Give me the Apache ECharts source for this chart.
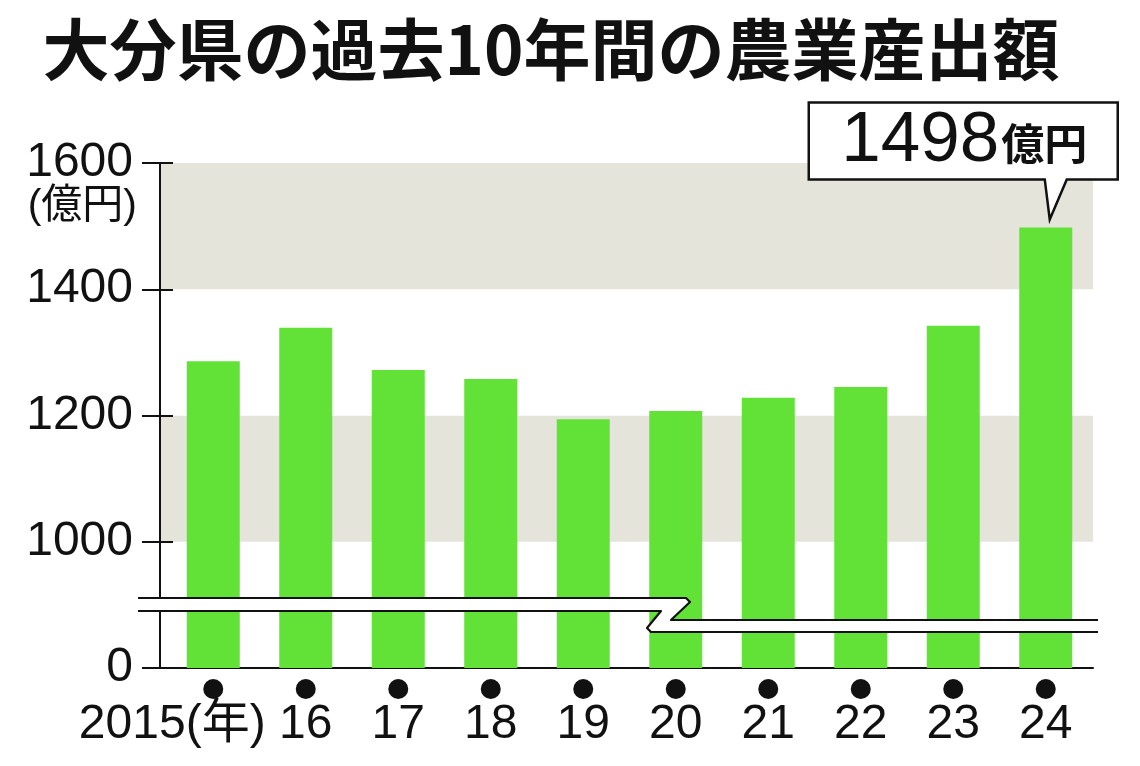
<!DOCTYPE html>
<html>
<head>
<meta charset="utf-8">
<script src="https://cdn.jsdelivr.net/npm/echarts@6/dist/echarts.min.js"></script>
<style>
html,body{margin:0;padding:0;background:#fff;}
#c{width:1140px;height:766px;}
</style>
</head>
<body>
<div id="c"></div>
<script>
// ---- data ----
const titleText = '大分県の過去10年間の農業産出額';
const years = ['2015','16','17','18','19','20','21','22','23','24'];
const yearUnit = '(年)';
const values = [1286, 1339, 1272, 1258, 1194, 1207, 1228, 1245, 1342, 1498];
const yTicks = [800, 1000, 1200, 1400, 1600];      // 800 stands for the broken "0"
const yTickLabels = ['0', '1000', '1200', '1400', '1600'];
const unitLabel = '(億円)';
const calloutUnit = '億円';

const GREEN = '#62e236';
const BAND = '#e5e4da';
const INK = '#111';
const NUMFONT = '"Liberation Sans", Arial, sans-serif';
const JPFONT = '"Noto Sans CJK JP", sans-serif';
const MIXFONT = '"Liberation Sans", "Noto Sans CJK JP", sans-serif';

const chart = echarts.init(document.getElementById('c'), null, {renderer: 'canvas'});

const yMin = yTicks[0], yMax = yTicks[yTicks.length - 1], yStep = yTicks[1] - yTicks[0];

const option = {
  animation: false,
  backgroundColor: '#fff',
  grid: [
    {left: 160, right: 47, top: 163, bottom: 98},
    {left: 167, right: 48, top: 163, bottom: 98}
  ],
  xAxis: [
    {gridIndex: 0, type: 'category', data: years,
     axisLine: {show: true, lineStyle: {color: INK, width: 2}},
     axisTick: {show: false}, axisLabel: {show: false}},
    {gridIndex: 1, type: 'category', data: years,
     axisLine: {show: false}, axisTick: {show: false},
     axisLabel: {
       margin: 11, interval: 0,
       formatter: function (v, i) {
         return i === 0 ? '{dot|}\n{f|' + v + yearUnit + '}' : '{dot|}\n{y|' + v + '}';
       },
       rich: {
         dot: {width: 20, height: 20, borderRadius: 10, backgroundColor: INK, align: 'center'},
         y: {fontSize: 48, fontFamily: MIXFONT, color: INK, lineHeight: 50, align: 'center', padding: [2, 0, 0, 0]},
         f: {fontSize: 48, fontFamily: MIXFONT, color: INK, lineHeight: 50, align: 'left', padding: [2, 82, 0, 0]}
       }
     }}
  ],
  yAxis: [
    {gridIndex: 0, type: 'value', position: 'left', min: yMin, max: yMax, interval: yStep,
     axisLine: {show: true, lineStyle: {color: INK, width: 2}},
     axisTick: {show: true, length: 18, lineStyle: {color: INK, width: 2}},
     axisLabel: {margin: 27, fontSize: 48, fontFamily: NUMFONT, color: INK,
       formatter: function (v) { const k = yTicks.indexOf(v); return k >= 0 ? yTickLabels[k] : ''; }},
     splitLine: {show: false},
     splitArea: {show: true, areaStyle: {color: ['#ffffff', BAND]}}},
    {gridIndex: 1, type: 'value', min: yMin, max: yMax, interval: yStep, show: false,
     splitLine: {show: false}},
    {gridIndex: 0, type: 'value', position: 'left', offset: 0, min: yMin, max: yMax, interval: yStep,
     axisLine: {show: false},
     axisTick: {show: true, inside: true, length: 13, lineStyle: {color: INK, width: 2}},
     axisLabel: {show: false}, splitLine: {show: false}, splitArea: {show: false}}
  ],
  series: [{
    type: 'bar', xAxisIndex: 1, yAxisIndex: 1,
    data: values, barWidth: 53,
    itemStyle: {color: GREEN}
  }]
};
chart.setOption(option);

// ---- decorations computed from the axes ----
function decorate() {
  const base = chart.convertToPixel({yAxisIndex: 0}, yMin);      // bottom line
  const top = chart.convertToPixel({yAxisIndex: 0}, yMax);
  const gx0 = 160, gx1 = 1140 - 47;
  const L = gx0 - 22, R = gx1 + 5;
  const uL = base - 70, lL = base - 57, uR = base - 48, lR = base - 36;
  const upper = [[L, uL], [686, uL], [690, uL + 4], [671, uR], [R, uR]];
  const lower = [[L, lL], [661, lL], [647, lR - 4], [651, lR], [R, lR]];
  const poly = upper.concat(lower.slice().reverse());

  const last = values.length - 1;
  const tip = chart.convertToPixel({xAxisIndex: 1, yAxisIndex: 1}, [years[last], values[last]]);
  const tx = tip[0] + 4, ty = tip[1] - 8;
  const bL = tx - 241, bR = tx + 68, bT = ty - 117, bB = ty - 40;
  const callout = [[bL, bT], [bR, bT], [bR, bB], [tx + 17, bB], [tx, ty], [tx - 5, bB], [bL, bB]];

  chart.setOption({
    graphic: [
      {type: 'text', x: 551, y: 16, z: 100,
       style: {text: titleText, font: 'bold 67px ' + JPFONT, fill: INK, align: 'center', verticalAlign: 'top'}},
      {type: 'text', x: 137, y: top + 44, z: 100,
       style: {text: unitLabel, font: '41px ' + MIXFONT, fill: INK, align: 'right', verticalAlign: 'middle'}},
      {type: 'polygon', z: 100, shape: {points: poly}, style: {fill: '#fff', stroke: null}},
      {type: 'polyline', z: 101, shape: {points: upper}, style: {stroke: INK, lineWidth: 2.2, fill: null, lineJoin: 'round'}},
      {type: 'polyline', z: 101, shape: {points: lower}, style: {stroke: INK, lineWidth: 2.2, fill: null, lineJoin: 'round'}},
      {type: 'polygon', z: 102, shape: {points: callout},
       style: {fill: '#fff', stroke: INK, lineWidth: 2.5, lineJoin: 'miter'}},
      {type: 'text', z: 103, x: (bL + bR) / 2 + 1, y: (bT + bB) / 2 + 1,
       style: {
         text: '{n|' + values[last] + '}{u|' + calloutUnit + '}',
         align: 'center', verticalAlign: 'middle',
         rich: {
           n: {font: '71px ' + NUMFONT, fill: INK, verticalAlign: 'bottom', lineHeight: 70},
           u: {font: 'bold 43px ' + JPFONT, fill: INK, verticalAlign: 'bottom', lineHeight: 70, padding: [0, 0, 12, 2]}
         }
       }}
    ]
  });
}
decorate();
</script>
</body>
</html>
